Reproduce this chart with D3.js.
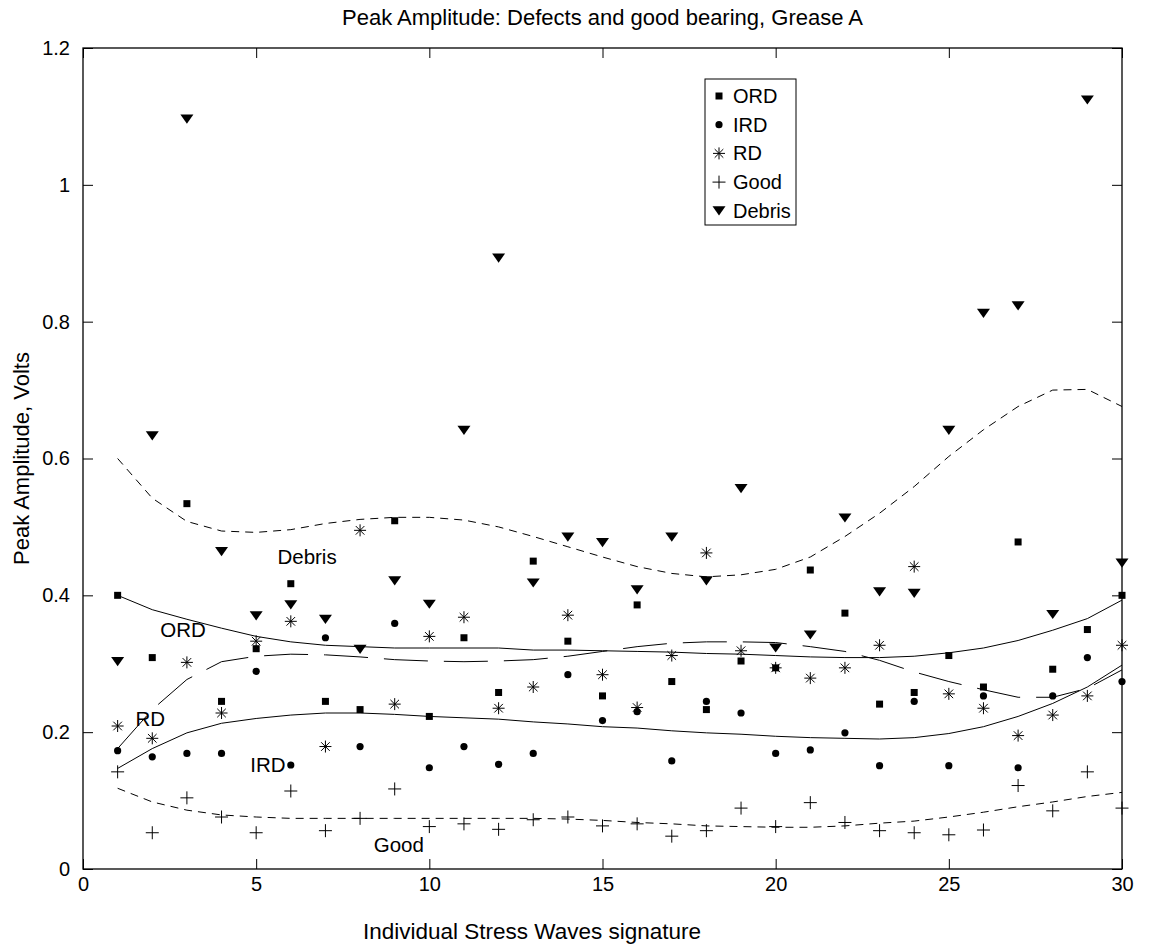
<!DOCTYPE html>
<html><head><meta charset="utf-8">
<script src="https://cdn.jsdelivr.net/npm/d3@7"></script>
<style>
body{margin:0;background:#fff}
text{font-family:"Liberation Sans",Arial,Helvetica,sans-serif;fill:#000}
</style>
</head><body>
<svg id="chart" width="1151" height="949"></svg>
<script>
// ---------- data ----------
const signature = [1,2,3,4,5,6,7,8,9,10,11,12,13,14,15,16,17,18,19,20,21,22,23,24,25,26,27,28,29,30];
const ORD    = [0.400,0.309,0.534,0.245,0.322,0.417,0.245,0.233,0.509,0.223,0.338,0.258,0.450,0.333,0.253,0.386,0.274,0.233,0.304,0.294,0.437,0.374,0.241,0.258,0.312,0.266,0.478,0.292,0.350,0.400];
const IRD    = [0.173,0.164,0.169,0.169,0.289,0.152,0.338,0.179,0.359,0.148,0.179,0.153,0.169,0.284,0.217,0.230,0.158,0.245,0.228,0.169,0.174,0.199,0.151,0.245,0.151,0.253,0.148,0.253,0.309,0.274];
const RD     = [0.209,0.191,0.302,0.228,0.333,0.362,0.179,0.495,0.241,0.340,0.368,0.235,0.266,0.371,0.284,0.236,0.312,0.462,0.319,0.294,0.279,0.294,0.327,0.442,0.256,0.235,0.195,0.225,0.253,0.327];
const Good   = [0.142,0.053,0.104,0.076,0.053,0.114,0.056,0.074,0.117,0.062,0.066,0.058,0.072,0.076,0.063,0.066,0.048,0.056,0.089,0.062,0.097,0.068,0.056,0.053,0.050,0.057,0.122,0.085,0.142,0.089];
const Debris = [0.303,0.633,1.096,0.464,0.370,0.386,0.365,0.321,0.421,0.387,0.641,0.893,0.418,0.485,0.477,0.408,0.485,0.421,0.556,0.323,0.342,0.513,0.405,0.403,0.641,0.812,0.823,0.372,1.124,0.447];

// fitted trend curves
const fitORD    = [0.400,0.379,0.365,0.352,0.340,0.332,0.327,0.325,0.323,0.323,0.323,0.323,0.320,0.320,0.319,0.318,0.317,0.315,0.314,0.312,0.310,0.309,0.309,0.311,0.316,0.323,0.334,0.349,0.366,0.393];
const fitIRD    = [0.147,0.176,0.199,0.213,0.220,0.225,0.228,0.228,0.226,0.223,0.221,0.219,0.215,0.212,0.208,0.206,0.202,0.199,0.197,0.194,0.192,0.191,0.190,0.192,0.198,0.208,0.223,0.242,0.266,0.298];
const fitRD     = [0.176,0.233,0.277,0.303,0.311,0.314,0.313,0.310,0.306,0.304,0.303,0.304,0.306,0.311,0.318,0.325,0.330,0.332,0.332,0.331,0.325,0.318,0.305,0.288,0.274,0.262,0.251,0.251,0.264,0.291];
const fitGood   = [0.118,0.098,0.086,0.079,0.076,0.074,0.074,0.074,0.074,0.074,0.074,0.074,0.074,0.073,0.071,0.068,0.066,0.063,0.062,0.061,0.061,0.063,0.067,0.070,0.076,0.083,0.091,0.098,0.106,0.112];
const fitDebris = [0.600,0.542,0.508,0.494,0.492,0.496,0.505,0.511,0.514,0.514,0.510,0.500,0.486,0.471,0.456,0.442,0.432,0.427,0.430,0.438,0.456,0.486,0.520,0.559,0.603,0.642,0.676,0.700,0.701,0.676];

const xTicks = [0,5,10,15,20,25,30];
const yTicks = [0,0.2,0.4,0.6,0.8,1.0,1.2];
const yTickLabels = ["0","0.2","0.4","0.6","0.8","1","1.2"];
const seriesNames = ["ORD","IRD","RD","Good","Debris"];
const annotNames = ["Debris","ORD","RD","IRD","Good"];
const annotX = [6.47,2.89,1.94,5.34,9.12];
const annotY = [0.456,0.350,0.220,0.152,0.035];

const titleText = "Peak Amplitude: Defects and good bearing, Grease A";
const xLabelText = "Individual Stress Waves signature";
const yLabelText = "Peak Amplitude, Volts";

// ---------- layout ----------
const L = 83, R = 1122, T = 48, B = 869;
const svg = d3.select("#chart");
const x = d3.scaleLinear().domain([0,30]).range([L,R]);
const y = d3.scaleLinear().domain([0,1.2]).range([B,T]);
const FS = 20;

// frame
svg.append("rect").attr("x",L).attr("y",T).attr("width",R-L).attr("height",B-T)
  .attr("fill","none").attr("stroke","#000").attr("stroke-width",1.3);

// axes with inward ticks
const tl = 10;
const gx = svg.append("g").attr("transform",`translate(0,${B})`)
  .call(d3.axisBottom(x).tickValues(xTicks).tickSize(-tl).tickPadding(8).tickFormat(d3.format("d")));
const gxt = svg.append("g").attr("transform",`translate(0,${T})`)
  .call(d3.axisTop(x).tickValues(xTicks).tickSize(-tl).tickFormat(""));
const gy = svg.append("g").attr("transform",`translate(${L},0)`)
  .call(d3.axisLeft(y).tickValues(yTicks).tickSize(-tl).tickPadding(13).tickFormat((d,i)=>yTickLabels[i]));
const gyr = svg.append("g").attr("transform",`translate(${R},0)`)
  .call(d3.axisRight(y).tickValues(yTicks).tickSize(-tl).tickFormat(""));
[gx,gxt,gy,gyr].forEach(g=>{
  g.select(".domain").remove();
  g.selectAll(".tick line").attr("stroke","#000").attr("stroke-width",1);
  g.selectAll("text").attr("font-size",FS).attr("font-family","Liberation Sans, Arial, sans-serif").attr("fill","#000");
});

// fit lines
const line = d3.line().x((d,i)=>x(signature[i])).y(d=>y(d));
const fits = [
  {d:fitDebris, dash:"8,6"},
  {d:fitORD, dash:null},
  {d:fitRD, dash:"44,16"},
  {d:fitIRD, dash:null},
  {d:fitGood, dash:"8,6"}
];
fits.forEach(f=>{
  svg.append("path").attr("d",line(f.d)).attr("fill","none")
    .attr("stroke","#000").attr("stroke-width",1)
    .attr("stroke-dasharray",f.dash);
});

// marker drawers
function drawMarker(g, type, cx, cy){
  if(type==="ORD"){
    g.append("rect").attr("x",cx-3.5).attr("y",cy-3.5).attr("width",7).attr("height",7).attr("fill","#000");
  } else if(type==="IRD"){
    g.append("circle").attr("cx",cx).attr("cy",cy).attr("r",3.6).attr("fill","#000");
  } else if(type==="RD"){
    const r=6, q=4.3;
    g.append("path").attr("d",`M${cx-r},${cy}L${cx+r},${cy}M${cx},${cy-r}L${cx},${cy+r}M${cx-q},${cy-q}L${cx+q},${cy+q}M${cx-q},${cy+q}L${cx+q},${cy-q}`)
      .attr("stroke","#000").attr("stroke-width",1).attr("fill","none");
  } else if(type==="Good"){
    const r=6.5;
    g.append("path").attr("d",`M${cx-r},${cy}L${cx+r},${cy}M${cx},${cy-r}L${cx},${cy+r}`)
      .attr("stroke","#000").attr("stroke-width",1).attr("fill","none");
  } else if(type==="Debris"){
    g.append("path").attr("d",`M${cx-6.5},${cy-4.6}L${cx+6.5},${cy-4.6}L${cx},${cy+4.6}Z`).attr("fill","#000");
  }
}

const seriesData = {ORD, IRD, RD, Good, Debris};
const mg = svg.append("g");
seriesNames.forEach(name=>{
  seriesData[name].forEach((v,i)=>drawMarker(mg, name, x(signature[i]), y(v)));
});

// annotations
annotNames.forEach((t,i)=>{
  svg.append("text").attr("x",x(annotX[i])).attr("y",y(annotY[i])).attr("dy","0.35em")
    .attr("text-anchor","middle").attr("font-size",20.5).text(t);
});

// legend
const lg = svg.append("g");
const lx0 = 705, ly0 = 79, lw = 91, lh = 146;
lg.append("rect").attr("x",lx0).attr("y",ly0).attr("width",lw).attr("height",lh)
  .attr("fill","#fff").attr("stroke","#000").attr("stroke-width",1);
seriesNames.forEach((name,i)=>{
  const cy = 96 + i*28.7;
  drawMarker(lg, name, 719, cy);
  lg.append("text").attr("x",733).attr("y",cy).attr("dy","0.35em").attr("font-size",FS).text(name);
});

// titles
svg.append("text").attr("x",(L+R)/2).attr("y",25).attr("text-anchor","middle").attr("font-size",22).text(titleText);
svg.append("text").attr("x",532).attr("y",939).attr("text-anchor","middle").attr("font-size",22.5).text(xLabelText);
svg.append("text").attr("transform",`translate(29,${(T+B)/2}) rotate(-90)`).attr("text-anchor","middle").attr("font-size",22).text(yLabelText);
</script>
</body></html>
